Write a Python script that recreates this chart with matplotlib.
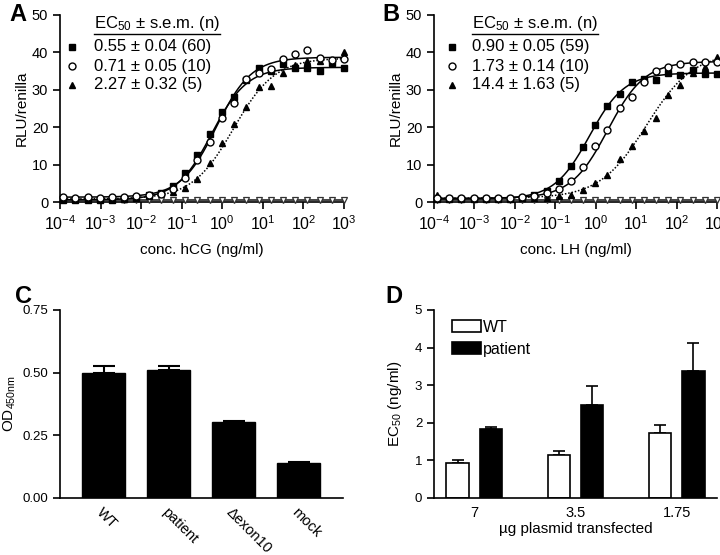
import matplotlib
matplotlib.use("Agg")
import matplotlib.pyplot as plt
import numpy as np

plt.rcParams['font.family'] = ['Liberation Sans', 'DejaVu Sans']
plt.rcParams['mathtext.fontset'] = 'custom'
plt.rcParams['mathtext.rm'] = 'Liberation Sans'
plt.rcParams['mathtext.it'] = 'Liberation Sans:italic'
plt.rcParams['mathtext.bf'] = 'Liberation Sans:bold'

# dilution series (ng/ml), high to low
conc = [1000, 500, 250, 125, 62.5, 31.25, 15.63, 7.81, 3.91, 1.95, 0.977, 0.488,
        0.244, 0.122, 0.061, 0.0305, 0.0153, 0.00763, 0.00381, 0.00191,
        0.000954, 0.000477, 0.000238, 0.000119]

# panel A - hCG
a_sq = [35.9, 37.2, 35.0, 35.9, 35.9, 36.8, 35.0, 35.7, 32.6, 28.0, 24.1, 18.1,
        12.6, 7.7, 4.4, 2.4, 1.8, 1.0, 0.8, 0.6, 0.5, 0.5, 0.5, 0.5]
a_ci = [38.2, 38.0, 38.6, 40.6, 39.6, 38.2, 35.6, 34.4, 32.8, 26.6, 22.4, 16.1,
        11.2, 6.5, 3.5, 2.2, 1.8, 1.5, 1.3, 1.3, 1.2, 1.3, 1.2, 1.3]
a_tr = [40.2, 38.0, 37.7, 37.7, 36.5, 34.6, 31.0, 30.7, 25.3, 20.8, 15.7, 10.5,
        6.1, 3.8, 2.8, 2.3, 1.5, 1.0, 0.9, 0.8, 0.8, 0.8, 0.8, 0.8]
a_mock = [0.5] * 24
a_fit = [(0.6, 36.0, 0.55, 1.0), (1.3, 38.7, 0.71, 1.0), (0.8, 38.5, 1.9, 0.85)]
a_leg = ['0.55 ± 0.04 (60)', '0.71 ± 0.05 (10)', '2.27 ± 0.32 (5)']

# panel B - LH
b_sq = [34.3, 34.3, 35.3, 34.0, 34.6, 32.5, 33.0, 32.2, 28.9, 25.7, 20.5, 14.6,
        9.7, 5.5, 3.0, 1.8, 1.2, 0.9, 0.8, 0.8, 0.8, 0.8, 0.8, 0.8]
b_ci = [37.3, 37.4, 37.5, 36.9, 36.0, 35.1, 32.2, 28.2, 25.1, 19.3, 14.9, 9.3,
        5.5, 3.6, 2.3, 1.6, 1.3, 1.1, 1.1, 1.1, 1.1, 1.1, 1.1, 1.1]
b_tr = [38.7, 36.2, 34.5, 31.3, 28.7, 22.4, 19.1, 15.1, 11.5, 7.3, 5.1, 3.1,
        2.0, 1.5, 1.2, 1.0, 1.0, 1.0, 1.0, 1.0, 1.0, 1.0, 1.0, 2.0]
b_mock = [0.5] * 24
b_fit = [(0.8, 34.5, 0.7, 1.0), (1.0, 37.6, 2.0, 0.95), (1.0, 40.0, 18.0, 0.75)]
b_leg = ['0.90 ± 0.05 (59)', '1.73 ± 0.14 (10)', '14.4 ± 1.63 (5)']

# panel C
c_names = ['WT', 'patient', 'Δexon10', 'mock']
c_vals = [0.50, 0.511, 0.305, 0.140]
c_err = [0.027, 0.016, 0.004, 0.002]

# panel D
d_groups = ['7', '3.5', '1.75']
d_wt = [0.93, 1.14, 1.72]
d_wt_err = [0.07, 0.11, 0.22]
d_pat = [1.83, 2.47, 3.38]
d_pat_err = [0.05, 0.51, 0.73]


def hill(x, bottom, top, ec50, slope):
    return bottom + (top - bottom) / (1 + (ec50 / x) ** slope)


def style_axes(ax, ls=10.5):
    for s in ['top', 'right']:
        ax.spines[s].set_visible(False)
    for s in ['left', 'bottom']:
        ax.spines[s].set_linewidth(1.2)
    ax.tick_params(width=1.2, length=5, labelsize=ls, direction='out')


fig = plt.figure(figsize=(7.2, 5.55), dpi=100)
W, H = 720, 555


def add_ax(left, top, right, bottom):
    return fig.add_axes([left / W, 1 - bottom / H, (right - left) / W, (bottom - top) / H])


axA = add_ax(60, 15, 344, 202)
axB = add_ax(434, 15, 717, 202)
axC = add_ax(60, 310, 343, 498)
axD = add_ax(434, 310, 717, 498)

xs = np.logspace(-4, 3, 400)
mk = dict(sq=dict(marker='s', color='black', ms=4.2, mfc='black', mec='black'),
          ci=dict(marker='o', color='black', ms=5, mfc='white', mec='black', mew=1.0),
          tr=dict(marker='^', color='black', ms=3.8, mfc='black', mec='black'),
          mock=dict(marker='v', color='black', ms=4.2, mfc='white', mec='#333333', mew=0.9))


def dose_panel(ax, sq, ci, tr, mock, fits, legs, xlabel, letter, hx, mx, lx):
    style_axes(ax)
    ax.plot(xs, np.full_like(xs, mock[0]), color='#444444', lw=1.4, zorder=2)
    for (b, t, e, s), ls in zip(fits, ['-', '-', (0, (1, 1.2))]):
        ax.plot(xs, hill(xs, b, t, e, s), color='black', lw=1.1, ls=ls, zorder=3)
    ax.plot(conc, mock, ls='none', clip_on=False, zorder=4, **mk['mock'])
    ax.plot(conc, tr, ls='none', clip_on=False, zorder=5, **mk['tr'])
    ax.plot(conc, sq, ls='none', clip_on=False, zorder=5, **mk['sq'])
    ax.plot(conc, ci, ls='none', clip_on=False, zorder=6, **mk['ci'])
    ax.set_xscale('log')
    ax.set_xlim(1e-4, 1e3)
    ax.set_ylim(0, 50)
    ax.set_yticks([0, 10, 20, 30, 40, 50])
    ax.set_xticks([10.0 ** k for k in range(-4, 4)])
    ax.set_xticklabels(['$10^{%d}$' % k for k in range(-4, 4)])
    ax.minorticks_off()
    ax.tick_params(axis='x', labelsize=11.5, pad=4)
    ax.set_xlabel(xlabel, fontsize=11, labelpad=7)
    ax.set_ylabel('RLU/renilla', fontsize=11, labelpad=2)
    ax.text(lx, 1.065, letter, transform=ax.transAxes, fontsize=17,
            fontweight='bold', va='top', ha='left')
    # legend block
    hdr = ax.text(hx, 0.952, 'EC$_{50}$ ± s.e.m. (n)', transform=ax.transAxes,
                  fontsize=12, va='center', ha='left')
    rows = [0.829, 0.727, 0.626]
    for y, key, txt in zip(rows, ['sq', 'ci', 'tr'], legs):
        ax.plot([mx], [y], transform=ax.transAxes, ls='none', clip_on=False, **mk[key])
        ax.text(hx, y, txt, transform=ax.transAxes, fontsize=12, va='center', ha='left')
    return hdr


hA = dose_panel(axA, a_sq, a_ci, a_tr, a_mock, a_fit, a_leg, 'conc. hCG (ng/ml)', 'A', 0.12, 0.042, -0.178)
hB = dose_panel(axB, b_sq, b_ci, b_tr, b_mock, b_fit, b_leg, 'conc. LH (ng/ml)', 'B', 0.134, 0.064, -0.183)

# panel C
style_axes(axC, 9.5)
xc = np.arange(len(c_names))
axC.bar(xc, c_vals, width=0.66, color='black', edgecolor='black', zorder=2)
axC.errorbar(xc, c_vals, yerr=[[0] * 4, c_err], fmt='none', ecolor='black',
             elinewidth=1.5, capsize=8, capthick=1.5, zorder=3)
axC.set_xlim(-0.67, 3.68)
axC.set_ylim(0, 0.75)
axC.set_yticks([0, 0.25, 0.5, 0.75])
axC.set_yticklabels(['0.00', '0.25', '0.50', '0.75'])
axC.set_xticks(xc)
axC.set_xticklabels(c_names, rotation=-45, ha='left', va='top', rotation_mode='anchor', fontsize=10.5)
axC.tick_params(axis='x', length=0, pad=5)
axC.set_ylabel(r'OD$_{\mathrm{450nm}}$', fontsize=11, labelpad=3)
axC.text(-0.159, 1.133, 'C', transform=axC.transAxes, fontsize=17,
         fontweight='bold', va='top', ha='left')

# panel D
style_axes(axD, 9.5)
xd = np.arange(len(d_groups))
off, bw = 0.165, 0.223
axD.bar(xd - off, d_wt, width=bw, color='white', edgecolor='black', lw=1.2, zorder=2)
axD.bar(xd + off, d_pat, width=bw, color='black', edgecolor='black', lw=1.2, zorder=2)
axD.errorbar(xd - off, d_wt, yerr=[[0] * 3, d_wt_err], fmt='none', ecolor='black',
             elinewidth=1.2, capsize=4.5, capthick=1.2, zorder=1)
axD.errorbar(xd + off, d_pat, yerr=[[0] * 3, d_pat_err], fmt='none', ecolor='black',
             elinewidth=1.2, capsize=4.5, capthick=1.2, zorder=1)
axD.set_xlim(-0.4, 2.4)
axD.set_ylim(0, 5)
axD.set_yticks([0, 1, 2, 3, 4, 5])
axD.set_xticks(xd)
axD.set_xticklabels(d_groups, fontsize=10.5)
axD.tick_params(axis='x', length=0, pad=6)
axD.set_xlabel('µg plasmid transfected', fontsize=11, labelpad=1)
axD.set_ylabel('EC$_{50}$ (ng/ml)', fontsize=11, labelpad=8)
axD.legend(['WT', 'patient'], loc='upper left', bbox_to_anchor=(0.03, 1.0),
           frameon=False, fontsize=11.5, handlelength=1.8, handleheight=0.8,
           handletextpad=0.15, labelspacing=0.45, borderaxespad=0.2)
axD.text(-0.173, 1.133, 'D', transform=axD.transAxes, fontsize=17,
         fontweight='bold', va='top', ha='left')

# underline the legend headers
fig.canvas.draw()
r = fig.canvas.get_renderer()
for ax, h in [(axA, hA), (axB, hB)]:
    bb = h.get_window_extent(renderer=r).transformed(ax.transAxes.inverted())
    ax.plot([bb.x0, bb.x1], [bb.y0 - 0.005, bb.y0 - 0.005], transform=ax.transAxes,
            color='black', lw=1.0, clip_on=False)

fig.savefig('out.png', dpi=100)
